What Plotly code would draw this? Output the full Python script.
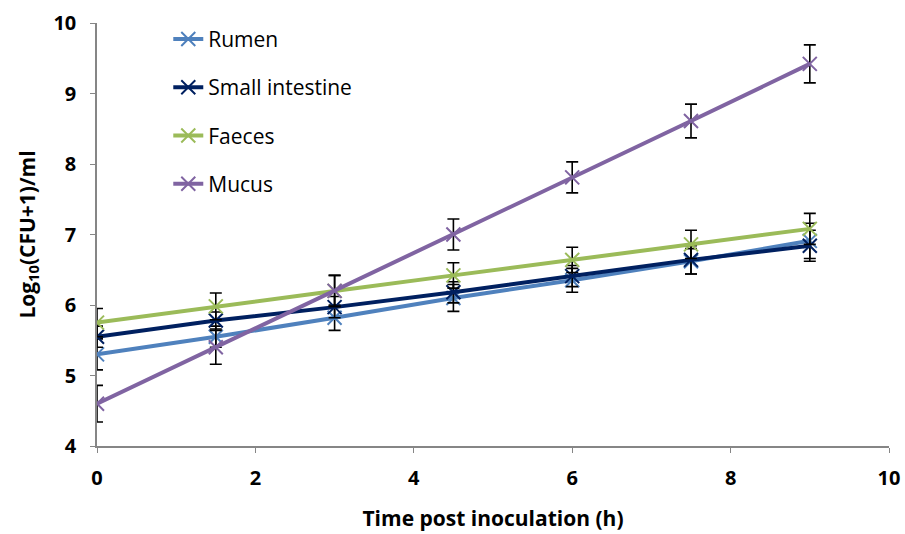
import plotly.graph_objects as go

time_h = [0, 1.5, 3, 4.5, 6, 7.5, 9]

rumen = [5.30, 5.55, 5.82, 6.10, 6.35, 6.62, 6.91]
small_intestine = [5.55, 5.78, 5.97, 6.18, 6.41, 6.64, 6.84]
faeces = [5.75, 5.98, 6.20, 6.42, 6.64, 6.86, 7.08]
mucus = [4.60, 5.40, 6.20, 7.00, 7.81, 8.61, 9.42]

rumen_err = [0.22, 0.15, 0.18, 0.19, 0.17, 0.18, 0.25]
small_intestine_err = [0.15, 0.12, 0.15, 0.15, 0.15, 0.2, 0.22]
faeces_err = [0.20, 0.19, 0.22, 0.18, 0.18, 0.20, 0.22]
mucus_err = [0.26, 0.24, 0.22, 0.22, 0.22, 0.24, 0.27]

x_ticks = [0, 2, 4, 6, 8, 10]
y_ticks = [4, 5, 6, 7, 8, 9, 10]

series = [
    ("Rumen", rumen, rumen_err, "#4F81BD"),
    ("Small intestine", small_intestine, small_intestine_err, "#002060"),
    ("Faeces", faeces, faeces_err, "#9BBB59"),
    ("Mucus", mucus, mucus_err, "#8064A2"),
]

FONT = "Open Sans, Noto Sans, sans-serif"

fig = go.Figure()
for i, (name, vals, errs, col) in enumerate(series):
    fig.add_trace(go.Scatter(
        x=time_h, y=vals, name=name, mode="lines+markers",
        legendgroup=f"g{i}",
        line=dict(color=col, width=4),
        marker=dict(symbol="x-thin", size=14, line=dict(color=col, width=2)),
        error_y=dict(type="data", array=errs, visible=True, color="black",
                     thickness=1.6, width=6),
    ))

fig.update_layout(
    width=905, height=534,
    margin=dict(l=97, r=16, t=23, b=88),
    plot_bgcolor="white", paper_bgcolor="white",
    showlegend=True,
    legend=dict(x=0.09, y=1.01, xanchor="left", yanchor="top",
                font=dict(family=FONT, size=21, color="black"),
                tracegroupgap=18, bgcolor="rgba(0,0,0,0)"),
    xaxis=dict(range=[0, 10], tickvals=x_ticks, ticktext=[f"<b>{v}</b>" for v in x_ticks],
               automargin=False,
               showgrid=False, zeroline=False,
               showline=True, linecolor="#868686", linewidth=1.5,
               ticks="outside", ticklen=5, tickcolor="#868686",
               ticklabelstandoff=8,
               tickfont=dict(family=FONT, size=20, color="black"),
               title=dict(text="<b>Time post inoculation (h)</b>",
                          font=dict(family=FONT, size=21, color="black"),
                          standoff=22)),
    yaxis=dict(range=[4, 10], tickvals=y_ticks, ticktext=[f"<b>{v}</b>" for v in y_ticks],
               automargin=False,
               showgrid=False, zeroline=False,
               showline=True, linecolor="#868686", linewidth=1.5,
               ticks="outside", ticklen=5, tickcolor="#868686",
               ticklabelstandoff=10,
               tickfont=dict(family=FONT, size=20, color="black"),
               title=dict(text="<b>Log<sub>10</sub>(CFU+1)/ml</b>",
                          font=dict(family=FONT, size=21, color="black"),
                          standoff=12)),
)

fig.write_html("out.html")
